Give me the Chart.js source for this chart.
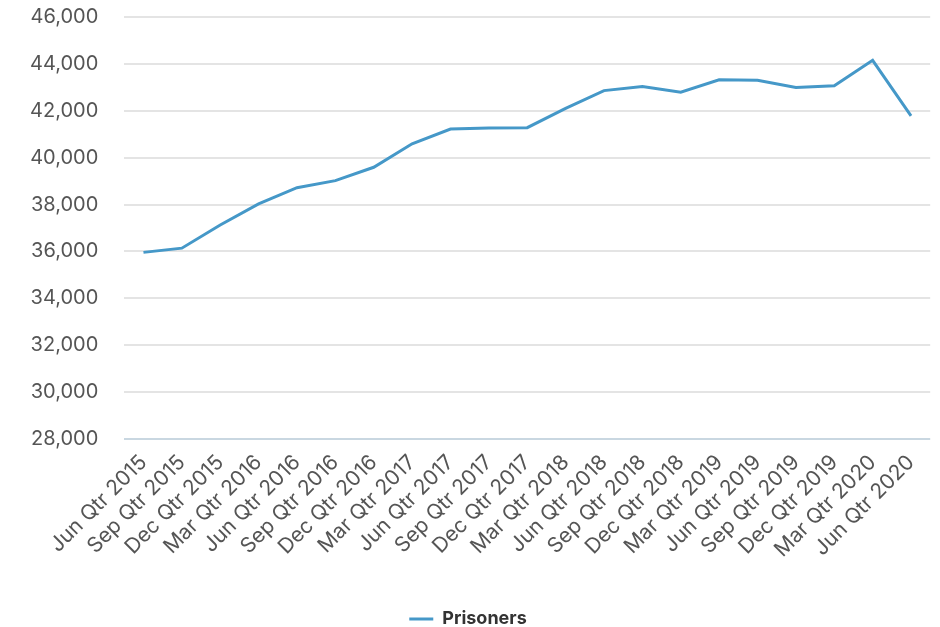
<!DOCTYPE html>
<html>
<head>
<meta charset="utf-8">
<script src="https://cdn.jsdelivr.net/npm/chart.js@4/dist/chart.umd.min.js"></script>
<style>
  html, body { margin: 0; padding: 0; background: #ffffff; }
  #wrap { width: 940px; height: 627px; position: relative; }
</style>
</head>
<body>
<div id="wrap"><canvas id="c" width="940" height="627"></canvas></div>
<script>
const categories = [
  "Jun Qtr 2015", "Sep Qtr 2015", "Dec Qtr 2015",
  "Mar Qtr 2016", "Jun Qtr 2016", "Sep Qtr 2016", "Dec Qtr 2016",
  "Mar Qtr 2017", "Jun Qtr 2017", "Sep Qtr 2017", "Dec Qtr 2017",
  "Mar Qtr 2018", "Jun Qtr 2018", "Sep Qtr 2018", "Dec Qtr 2018",
  "Mar Qtr 2019", "Jun Qtr 2019", "Sep Qtr 2019", "Dec Qtr 2019",
  "Mar Qtr 2020", "Jun Qtr 2020"
];
const prisoners = [
  35960, 36140, 37130,
  38030, 38720, 39020, 39590,
  40590, 41220, 41270, 41280,
  42100, 42860, 43030, 42790,
  43320, 43300, 42990, 43070,
  44150, 41780
];
const yTicks = { min: 28000, max: 46000, step: 2000 };

const FONT = "Inter, 'Noto Sans', sans-serif";

const legendShift = {
  id: 'legendShift',
  afterLayout(chart) {
    const lg = chart.legend;
    if (lg && !lg._shifted) {
      lg.top += 11;
      lg.bottom += 11;
      lg.left -= 12;
      lg.right -= 12;
      lg._shifted = true;
    }
  },
  beforeUpdate(chart) {
    if (chart.legend) chart.legend._shifted = false;
  }
};

new Chart(document.getElementById('c'), {
  type: 'line',
  data: {
    labels: categories,
    datasets: [{
      label: 'Prisoners',
      data: prisoners,
      borderColor: '#4598c8',
      backgroundColor: '#4598c8',
      borderWidth: 3,
      pointRadius: 0,
      pointHoverRadius: 0,
      tension: 0,
      fill: false
    }]
  },
  plugins: [legendShift],
  options: {
    responsive: false,
    animation: false,
    layout: { padding: { left: 27, right: 7, top: 17, bottom: 0 } },
    scales: {
      x: {
        offset: true,
        grid: { display: false, drawTicks: false },
        border: { display: false },
        afterFit: (s) => { s.height = 160; },
        ticks: {
          autoSkip: false,
          maxRotation: 45,
          minRotation: 45,
          padding: 11,
          color: '#555555',
          font: { family: FONT, size: 21 }
        }
      },
      y: {
        min: yTicks.min,
        max: yTicks.max,
        grid: {
          color: (ctx) => ctx.tick && ctx.tick.value === yTicks.min ? '#c9d7e1' : '#e4e4e4',
          lineWidth: 2,
          drawTicks: true,
          tickLength: 23,
          tickColor: 'rgba(0,0,0,0)'
        },
        border: { display: false },
        ticks: {
          stepSize: yTicks.step,
          padding: 3,
          color: '#555555',
          font: { family: FONT, size: 20 },
          callback: (v) => v.toLocaleString('en-US')
        }
      }
    },
    plugins: {
      legend: {
        position: 'bottom',
        labels: {
          color: '#333333',
          font: { family: FONT, size: 18, weight: 'bold' },
          boxWidth: 24,
          boxHeight: 3,
          padding: 0,
          generateLabels: (chart) => {
            const ds = chart.data.datasets[0];
            return [{
              text: ds.label,
              fillStyle: ds.borderColor,
              strokeStyle: ds.borderColor,
              lineWidth: 0,
              datasetIndex: 0,
              fontColor: '#333333'
            }];
          }
        }
      },
      tooltip: { enabled: false }
    }
  }
});
</script>
</body>
</html>
